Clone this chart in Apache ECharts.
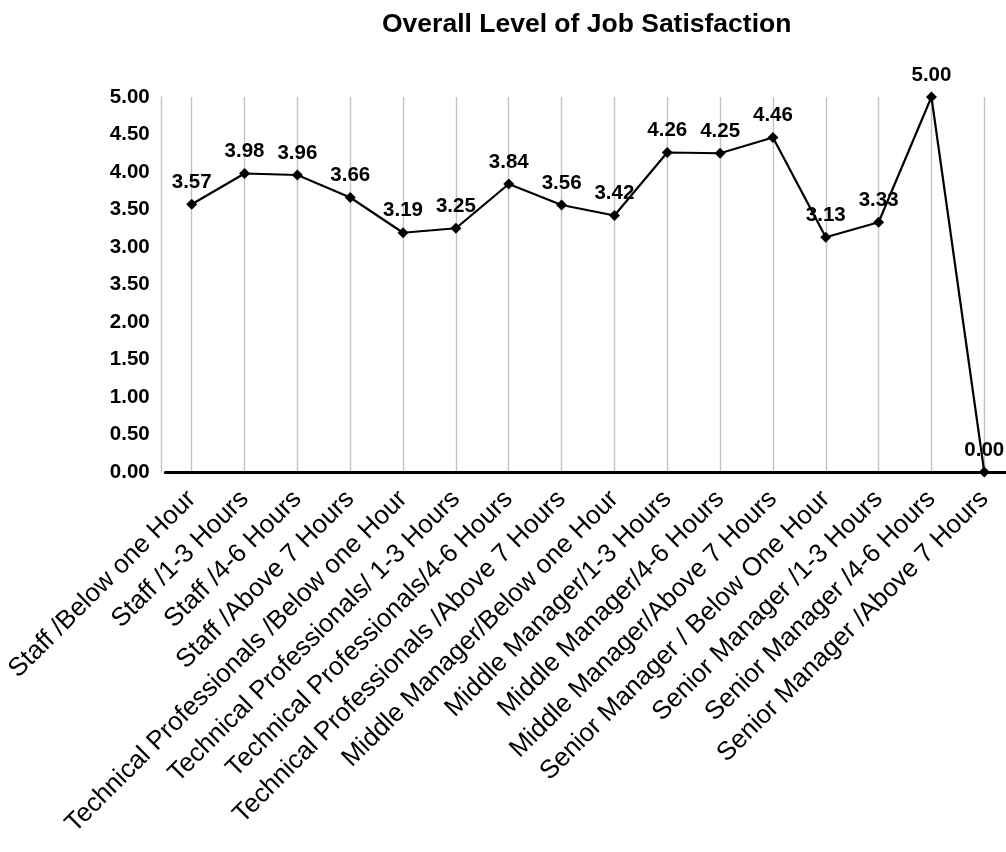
<!DOCTYPE html>
<html>
<head>
<meta charset="utf-8">
<title>Overall Level of Job Satisfaction</title>
<script src="https://cdn.jsdelivr.net/npm/echarts@6/dist/echarts.min.js"></script>
<style>
  html, body { margin: 0; padding: 0; background: #ffffff; }
  #chart { width: 1006px; height: 852px; }
</style>
</head>
<body>
<div id="chart"></div>
<script>
// Respondent group / daily hours
const categories = [
  'Staff /Below one Hour',
  'Staff /1-3 Hours',
  'Staff /4-6 Hours',
  'Staff /Above 7 Hours',
  'Technical Professionals /Below one Hour',
  'Technical Professionals/ 1-3 Hours',
  'Technical Professionals/4-6 Hours',
  'Technical Professionals /Above 7 Hours',
  'Middle Manager/Below one Hour',
  'Middle Manager/1-3 Hours',
  'Middle Manager/4-6 Hours',
  'Middle Manager/Above 7 Hours',
  'Senior Manager / Below One Hour',
  'Senior Manager /1-3 Hours',
  'Senior Manager /4-6 Hours',
  'Senior Manager /Above 7 Hours'
];

// Mean satisfaction score per group
const satisfaction = [3.57, 3.98, 3.96, 3.66, 3.19, 3.25, 3.84, 3.56, 3.42, 4.26, 4.25, 4.46, 3.13, 3.33, 5.00, 0.00];

// Value axis tick labels, bottom to top
const yTickLabels = ['0.00', '0.50', '1.00', '1.50', '2.00', '3.50', '3.00', '3.50', '4.00', '4.50', '5.00'];

const FONT = '"Liberation Sans", Arial, Helvetica, sans-serif';
const GRID_COLOR = '#c3c3c3';

const chart = echarts.init(document.getElementById('chart'), null, { renderer: 'canvas' });

chart.setOption({
  animation: false,
  backgroundColor: '#ffffff',
  title: {
    text: 'Overall Level of Job Satisfaction',
    left: 382,
    top: 11,
    padding: 0,
    textStyle: {
      fontFamily: FONT,
      fontSize: 26.5,
      fontWeight: 'bold',
      color: '#000000'
    }
  },
  grid: {
    left: 165.3,
    top: 97,
    width: 845.4,
    height: 375,
    containLabel: false,
    outerBoundsMode: 'none'
  },
  xAxis: {
    type: 'category',
    data: categories,
    boundaryGap: true,
    axisLine: { show: true, lineStyle: { color: '#000000', width: 3 } },
    axisTick: { show: false },
    // vertical guides run through each category's point
    splitLine: {
      show: true,
      interval: 0,
      alignWithLabel: true,
      lineStyle: { color: GRID_COLOR, width: 1.4 }
    },
    axisLabel: {
      interval: 0,
      rotate: 45,
      margin: 23,
      fontFamily: FONT,
      fontSize: 26,
      color: '#000000'
    }
  },
  yAxis: {
    type: 'value',
    min: 0,
    max: 5,
    interval: 0.5,
    offset: 3.6,
    axisLine: { show: true, lineStyle: { color: GRID_COLOR, width: 1.4 } },
    axisTick: { show: false },
    splitLine: { show: false },
    axisLabel: {
      margin: 12,
      fontFamily: FONT,
      fontSize: 20.5,
      fontWeight: 'bold',
      color: '#000000',
      padding: [0, 0, 11, 0],
      formatter: function (value, index) { return yTickLabels[index]; }
    }
  },
  series: [{
    type: 'line',
    data: satisfaction,
    symbol: 'diamond',
    symbolSize: 11,
    showAllSymbol: true,
    clip: false,
    lineStyle: { color: '#000000', width: 2.2 },
    itemStyle: { color: '#000000' },
    label: {
      show: true,
      position: 'top',
      distance: 6,
      fontFamily: FONT,
      fontSize: 20.5,
      fontWeight: 'bold',
      color: '#000000',
      formatter: function (p) { return p.value.toFixed(2); }
    }
  }]
});
</script>
</body>
</html>
